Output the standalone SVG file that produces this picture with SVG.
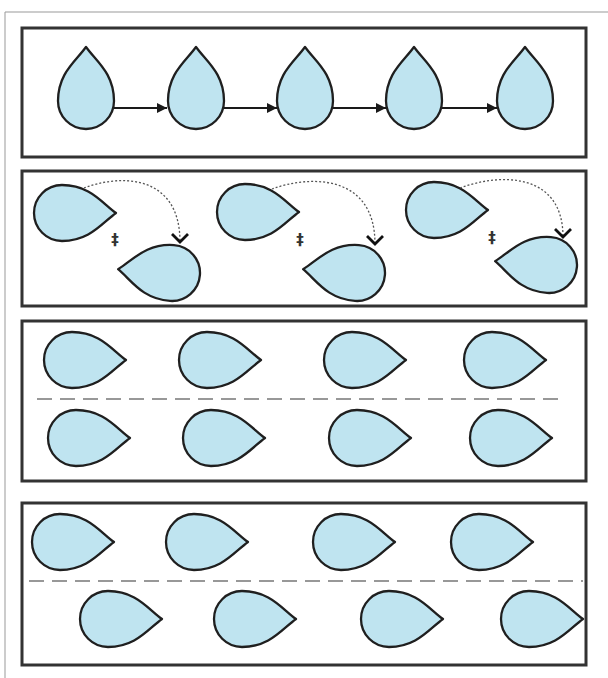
<svg xmlns="http://www.w3.org/2000/svg" xmlns:xlink="http://www.w3.org/1999/xlink" width="608" height="678" viewBox="0 0 608 678">
<style>
.panel{fill:#fff;stroke:#333;stroke-width:3}
.drop{fill:#bfe4f0;stroke:#1f1f1f;stroke-width:2.3;stroke-linejoin:round}
.arrow{fill:none;stroke:#1a1a1a;stroke-width:1.8}
.dotted{fill:none;stroke:#555;stroke-width:1.3;stroke-dasharray:2 2}
.dash{fill:none;stroke:#777;stroke-width:1.6;stroke-dasharray:15 8}
.mark{font-family:"DejaVu Sans",sans-serif;font-size:15px;font-weight:bold;fill:#333;text-anchor:middle}
</style>
<defs>
<path id="dropShape" d="M54,0 C40,-10 28,-28 0,-28 A28,28 0 0 0 0,28 C28,28 40,10 54,0 Z"/>
<marker id="ah" viewBox="0 0 10 10" refX="10" refY="5" markerWidth="10" markerHeight="10" markerUnits="userSpaceOnUse" orient="auto">
<path d="M0,0 L10,5 L0,10 Z" fill="#1a1a1a"/>
</marker>
<marker id="vh" viewBox="-10 -9 12 18" refX="0" refY="0" markerWidth="12" markerHeight="18" markerUnits="userSpaceOnUse" orient="auto">
<path d="M-8,-8 L0,0 L-8,8" fill="none" stroke="#111" stroke-width="2.8"/>
</marker>
</defs>
<rect width="608" height="678" fill="#fff"/>
<path d="M5,678 L5,12 L608,12" fill="none" stroke="#999" stroke-width="1"/>
<g id="panel1">
<rect class="panel" x="22" y="28" width="564" height="129"/>
<g id="p1-drop1"><use href="#dropShape" class="drop" transform="translate(86,101) rotate(-90)"/></g>
<g id="p1-drop2"><use href="#dropShape" class="drop" transform="translate(196,101) rotate(-90)"/></g>
<g id="p1-drop3"><use href="#dropShape" class="drop" transform="translate(305,101) rotate(-90)"/></g>
<g id="p1-drop4"><use href="#dropShape" class="drop" transform="translate(414,101) rotate(-90)"/></g>
<g id="p1-drop5"><use href="#dropShape" class="drop" transform="translate(525,101) rotate(-90)"/></g>
</g>
<g id="panel2">
<rect class="panel" x="22" y="171" width="564" height="135"/>
<g id="p2-a1"><use href="#dropShape" class="drop" transform="translate(62,213)"/></g>
<g id="p2-b1"><use href="#dropShape" class="drop" transform="translate(172,273) rotate(184)"/></g>
<g id="p2-a2"><use href="#dropShape" class="drop" transform="translate(245,212)"/></g>
<g id="p2-b2"><use href="#dropShape" class="drop" transform="translate(357,273) rotate(184)"/></g>
<g id="p2-a3"><use href="#dropShape" class="drop" transform="translate(434,210)"/></g>
<g id="p2-b3"><use href="#dropShape" class="drop" transform="translate(549,265) rotate(184)"/></g>
<text class="mark" x="115" y="245">‡</text>
<text class="mark" x="300" y="245">‡</text>
<text class="mark" x="492" y="243">‡</text>
</g>
<g id="panel3">
<rect class="panel" x="22" y="321" width="564" height="160"/>
<g id="p3-r1d1"><use href="#dropShape" class="drop" transform="translate(72,360)"/></g>
<g id="p3-r1d2"><use href="#dropShape" class="drop" transform="translate(207,360)"/></g>
<g id="p3-r1d3"><use href="#dropShape" class="drop" transform="translate(352,360)"/></g>
<g id="p3-r1d4"><use href="#dropShape" class="drop" transform="translate(492,360)"/></g>
<g id="p3-r2d1"><use href="#dropShape" class="drop" transform="translate(76,438)"/></g>
<g id="p3-r2d2"><use href="#dropShape" class="drop" transform="translate(211,438)"/></g>
<g id="p3-r2d3"><use href="#dropShape" class="drop" transform="translate(357,438)"/></g>
<g id="p3-r2d4"><use href="#dropShape" class="drop" transform="translate(498,438)"/></g>
</g>
<g id="panel4">
<rect class="panel" x="22" y="503" width="564" height="162"/>
<g id="p4-r1d1"><use href="#dropShape" class="drop" transform="translate(60,542)"/></g>
<g id="p4-r1d2"><use href="#dropShape" class="drop" transform="translate(194,542)"/></g>
<g id="p4-r1d3"><use href="#dropShape" class="drop" transform="translate(341,542)"/></g>
<g id="p4-r1d4"><use href="#dropShape" class="drop" transform="translate(479,542)"/></g>
<g id="p4-r2d1"><use href="#dropShape" class="drop" transform="translate(108,619)"/></g>
<g id="p4-r2d2"><use href="#dropShape" class="drop" transform="translate(242,619)"/></g>
<g id="p4-r2d3"><use href="#dropShape" class="drop" transform="translate(389,619)"/></g>
<g id="p4-r2d4"><use href="#dropShape" class="drop" transform="translate(529,619)"/></g>
</g>
<g id="connectors">
<line class="arrow" x1="114" y1="108" x2="167" y2="108" marker-end="url(#ah)"/>
<line class="arrow" x1="224" y1="108" x2="277" y2="108" marker-end="url(#ah)"/>
<line class="arrow" x1="333" y1="108" x2="386" y2="108" marker-end="url(#ah)"/>
<line class="arrow" x1="442" y1="108" x2="497" y2="108" marker-end="url(#ah)"/>
<path class="dotted" d="M84,188 C120,174 180,174 180,242" marker-end="url(#vh)"/>
<path class="dotted" d="M272,189 C310,175 375,174 375,244" marker-end="url(#vh)"/>
<path class="dotted" d="M460,188 C500,173 563,172 563,237" marker-end="url(#vh)"/>
<line class="dash" x1="37" y1="399" x2="559" y2="399"/>
<line class="dash" x1="29" y1="581" x2="583" y2="581"/>
</g>
</svg>
